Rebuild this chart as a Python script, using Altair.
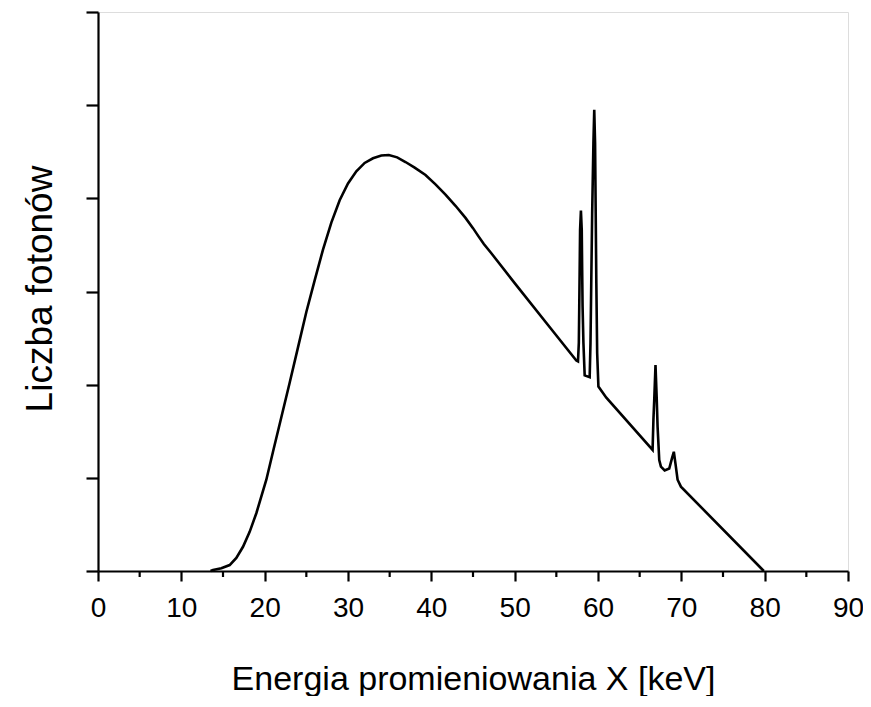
import altair as alt
import pandas as pd

# Photon spectrum (energy in keV, photon count in arbitrary units)
energy = [13.5, 13.8, 14.8, 15.8, 16.6, 17.4, 18.2, 19.0, 20.2, 21.0, 22.0, 23.0,
          24.0, 25.0, 26.0, 27.0, 28.0, 29.0, 30.0, 31.0, 32.0, 33.0, 34.0, 34.9,
          35.9, 36.9, 38.0, 39.3, 40.5, 41.7, 42.9, 44.1, 45.0, 45.6, 46.3, 47.2,
          50.0, 54.0, 57.4, 57.6,
          57.7, 57.75, 57.8, 57.85, 57.95, 58.05, 58.1, 58.15, 58.25, 58.4,
          59.0, 59.1, 59.2, 59.3, 59.45, 59.55, 59.65, 59.8, 59.9, 60.05,
          61.0, 66.55,
          66.65, 66.75, 66.9, 67.05, 67.15, 67.35, 67.55, 68.0, 68.55,
          68.85, 69.1, 69.3, 69.55, 69.95, 79.9]
counts = [0.0, 0.01, 0.03, 0.064, 0.14, 0.26, 0.42, 0.62, 0.98, 1.28, 1.65, 2.02,
          2.40, 2.78, 3.12, 3.45, 3.74, 3.98, 4.16, 4.29, 4.38, 4.43, 4.46, 4.465,
          4.44, 4.39, 4.33, 4.25, 4.15, 4.04, 3.92, 3.79, 3.68, 3.60, 3.51, 3.41,
          3.09, 2.64, 2.26, 2.25,
          2.45, 2.84, 3.23, 3.66, 3.87, 3.66, 3.23, 2.84, 2.45, 2.10,
          2.08, 2.45, 3.16, 3.84, 4.59, 4.95, 4.59, 3.09, 2.34, 1.98,
          1.86, 1.30,
          1.62, 1.84, 2.21, 1.84, 1.55, 1.19, 1.12, 1.08, 1.10,
          1.20, 1.28, 1.15, 0.98, 0.905, 0.0]

x_major = [0, 10, 20, 30, 40, 50, 60, 70, 80, 90]
x_minor = [5, 15, 25, 35, 45, 55, 65, 75, 85]
y_ticks = [0, 1, 2, 3, 4, 5, 6]

df = pd.DataFrame({"energy": energy, "counts": counts, "order": list(range(len(energy)))})
minor_df = pd.DataFrame({"m": x_minor})

FONT = "Liberation Sans"
W, H = 750, 559

xscale = alt.Scale(domain=[0, 90], nice=False, zero=False)

line = alt.Chart(df).mark_line(color="black", strokeWidth=2.6, strokeJoin="miter").encode(
    x=alt.X("energy:Q", scale=xscale,
            axis=alt.Axis(values=x_major, title="Energia promieniowania X [keV]",
                          format="d", tickSize=10, tickWidth=2.2, tickColor="black",
                          domainColor="black", domainWidth=2.2,
                          labelFont=FONT, labelFontSize=28, labelColor="black",
                          labelPadding=13, labelFlush=False,
                          titleFont=FONT, titleFontSize=34, titleFontWeight="normal",
                          titleColor="black", titleY=118, titleBaseline="alphabetic",
                          grid=False)),
    y=alt.Y("counts:Q", scale=alt.Scale(domain=[0, 6], nice=False),
            axis=alt.Axis(values=y_ticks, labels=False, title="Liczba fotonów",
                          tickSize=12, tickWidth=2.2, tickColor="black",
                          domainColor="black", domainWidth=2.2,
                          titleFont=FONT, titleFontSize=37, titleFontWeight="normal",
                          titleColor="black", titleX=-58, titleY=H / 2 - 3,
                          titleBaseline="middle", titleAlign="center", grid=False)),
    order="order:Q",
)

minor = alt.Chart(minor_df).mark_rule(color="black", strokeWidth=2.2).encode(
    x=alt.X("m:Q", scale=xscale),
    y=alt.value(H),
    y2=alt.value(H + 6),
)

chart = alt.layer(line, minor).properties(
    width=W, height=H,
    autosize=alt.AutoSizeParams(type="none"),
    padding={"left": 90, "top": 4, "right": 15, "bottom": 125},
).configure_view(stroke=None).configure(background="white")

chart.save("out.html", embed_options={"renderer": "svg", "actions": False})
